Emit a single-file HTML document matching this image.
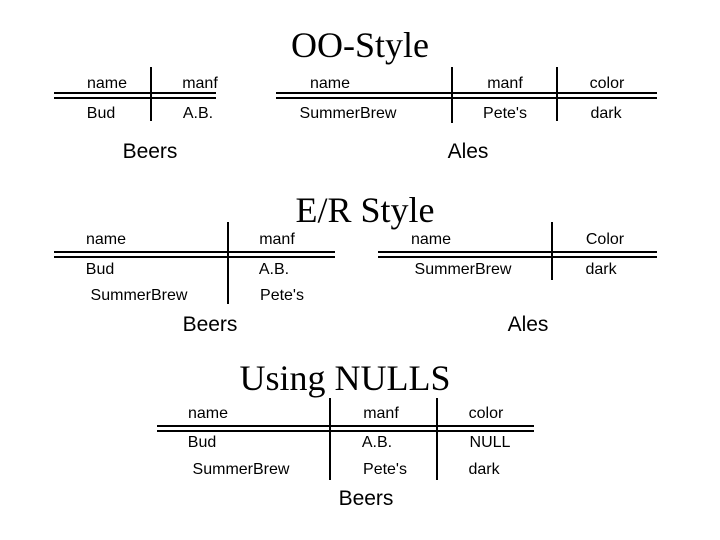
<!DOCTYPE html>
<html><head><style>body{margin:0;background:#fff}svg{display:block}</style></head><body>
<svg width="720" height="540" viewBox="0 0 720 540" xmlns="http://www.w3.org/2000/svg">
<g font-family="Liberation Serif, serif" font-size="36" text-anchor="middle" fill="#000">
<text x="360" y="57">OO-Style</text>
<text x="365" y="222">E/R Style</text>
<text x="345" y="390">Using NULLS</text>
</g>
<g stroke="#000" stroke-width="2">
<line x1="54" y1="93" x2="216" y2="93"/><line x1="54" y1="98" x2="216" y2="98"/>
<line x1="151" y1="67" x2="151" y2="121"/>
<line x1="276" y1="93" x2="657" y2="93"/><line x1="276" y1="98" x2="657" y2="98"/>
<line x1="452" y1="67" x2="452" y2="123"/><line x1="557" y1="67" x2="557" y2="121"/>
<line x1="54" y1="252" x2="335" y2="252"/><line x1="54" y1="257" x2="335" y2="257"/>
<line x1="228" y1="222" x2="228" y2="304"/>
<line x1="378" y1="252" x2="657" y2="252"/><line x1="378" y1="257" x2="657" y2="257"/>
<line x1="552" y1="222" x2="552" y2="280"/>
<line x1="157" y1="426" x2="534" y2="426"/><line x1="157" y1="431" x2="534" y2="431"/>
<line x1="330" y1="398" x2="330" y2="480"/><line x1="437" y1="398" x2="437" y2="480"/>
</g>
<g font-family="Liberation Sans, sans-serif" font-size="16" text-anchor="middle" fill="#000">
<text x="107" y="88">name</text><text x="200" y="88">manf</text>
<text x="101" y="118">Bud</text><text x="198" y="118">A.B.</text>
<text x="330" y="88">name</text><text x="505" y="88">manf</text><text x="607" y="88">color</text>
<text x="348" y="118">SummerBrew</text><text x="505" y="118">Pete's</text><text x="606" y="118">dark</text>
<text x="106" y="244">name</text><text x="277" y="244">manf</text>
<text x="100" y="274">Bud</text><text x="274" y="274">A.B.</text>
<text x="139" y="300">SummerBrew</text><text x="282" y="300">Pete's</text>
<text x="431" y="244">name</text><text x="605" y="244">Color</text>
<text x="463" y="274">SummerBrew</text><text x="601" y="274">dark</text>
<text x="208" y="418">name</text><text x="381" y="418">manf</text><text x="486" y="418">color</text>
<text x="202" y="447">Bud</text><text x="377" y="447">A.B.</text><text x="490" y="447">NULL</text>
<text x="241" y="474">SummerBrew</text><text x="385" y="474">Pete's</text><text x="484" y="474">dark</text>
</g>
<g font-family="Liberation Sans, sans-serif" font-size="21" text-anchor="middle" fill="#000">
<text x="150" y="158">Beers</text><text x="468" y="158">Ales</text>
<text x="210" y="331">Beers</text><text x="528" y="331">Ales</text>
<text x="366" y="505">Beers</text>
</g>
</svg>
</body></html>
